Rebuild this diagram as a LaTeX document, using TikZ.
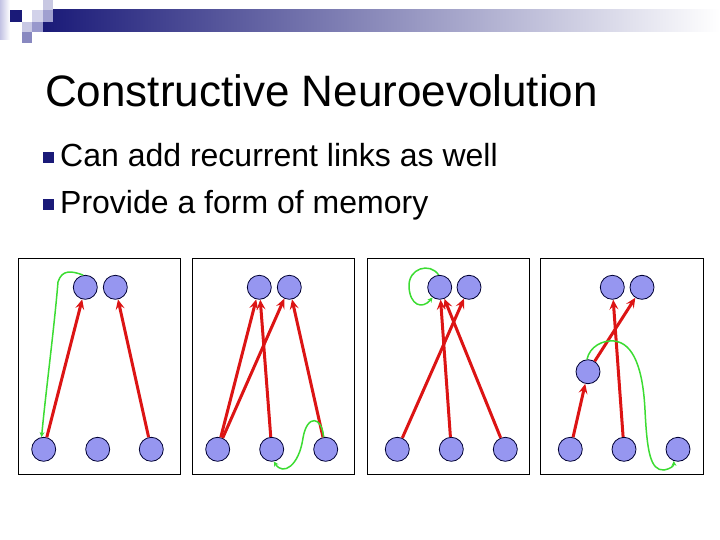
\documentclass[tikz,border=0pt]{standalone}
\usepackage{fontspec}
\setmainfont{Liberation Sans}
\usetikzlibrary{arrows.meta}
\definecolor{navy}{RGB}{26,26,120}
\definecolor{nodefill}{RGB}{150,150,240}
\definecolor{redl}{RGB}{220,20,20}
\definecolor{greenl}{RGB}{60,220,50}
\definecolor{sqa}{RGB}{200,200,226}
\definecolor{sqb}{RGB}{160,160,208}
\definecolor{sqc}{RGB}{210,210,234}
\definecolor{sqd}{RGB}{200,200,228}
\definecolor{sqe}{RGB}{152,152,204}
\definecolor{sqf}{RGB}{136,136,192}
\definecolor{strip}{RGB}{195,195,228}
\begin{document}
\begin{tikzpicture}[x=1pt,y=-1pt,
  neuron/.style={circle,draw=black!80!blue,fill=nodefill,line width=0.8pt,minimum size=24pt,inner sep=0pt},
  panel/.style={draw=black,line width=1pt},
  redarrow/.style={draw=redl,line width=3pt,-{Stealth[length=10pt,width=9pt,inset=4pt]}},
  greenarrow/.style={draw=greenl,line width=1.5pt,-{Stealth[length=5pt,width=5pt]}},
  bulletsq/.style={fill=navy}]
\useasboundingbox (0,0) rectangle (720,540);
% header decoration
\shade[left color=strip,right color=white] (0,0) rectangle (10,40);
\shade[left color=navy,right color=white] (43,10) rectangle (720,32);
\fill[sqa] (43,0) rectangle (53,10);
\fill[sqb] (43,10) rectangle (53,22);
\fill[navy] (10,10) rectangle (22,22);
\fill[sqc] (32,10) rectangle (43,22);
\fill[sqd] (22,22) rectangle (32,32);
\fill[sqe] (32,22) rectangle (43,32);
\fill[sqf] (22,32) rectangle (32,43);
% title and bullets
\node[anchor=base west,inner sep=0pt,font=\fontsize{44}{44}\selectfont] (title) at (45,107) {Constructive Neuroevolution};
\fill[bulletsq] (43,152) rectangle (54,163);
\node[anchor=base west,inner sep=0pt,font=\fontsize{32}{32}\selectfont] (b1) at (60,167) {Can add recurrent links as well};
\fill[bulletsq] (43,199) rectangle (54,210);
\node[anchor=base west,inner sep=0pt,font=\fontsize{32}{32}\selectfont] (b2) at (60,214) {Provide a form of memory};
% panels
\draw[panel] (18,258) rectangle (180,474);
\draw[panel] (192,258) rectangle (354,474);
\draw[panel] (367,258) rectangle (529,474);
\draw[panel] (540,258) rectangle (703,474);
% panel 1
\node[neuron] (p1t1) at (85.3,287.3) {};
\node[neuron] (p1t2) at (115.3,287.3) {};
\node[neuron] (p1b1) at (43.7,449.3) {};
\node[neuron] (p1b2) at (97.7,449.3) {};
\node[neuron] (p1b3) at (151.3,449.3) {};
\draw[redarrow] (p1b1) -- (p1t1);
\draw[redarrow] (p1b3) -- (p1t2);
\draw[greenarrow] (p1t1.100) .. controls (72,271) and (62,269) .. (58,282) .. controls (54,330) and (46,390) .. (p1b1.100);
% panel 2
\node[neuron] (p2t1) at (259.3,287.3) {};
\node[neuron] (p2t2) at (289.3,287.3) {};
\node[neuron] (p2b1) at (217.7,449.3) {};
\node[neuron] (p2b2) at (271.7,449.3) {};
\node[neuron] (p2b3) at (325.7,449.3) {};
\draw[redarrow] (p2b1) -- (p2t1);
\draw[redarrow] (p2b1) -- (p2t2);
\draw[redarrow] (p2b2) -- (p2t1);
\draw[redarrow] (p2b3) -- (p2t2);
\draw[greenarrow] (p2b3.100) .. controls (322,416) and (307,414) .. (303,438) .. controls (299,466) and (283,476) .. (p2b2.-80);
% panel 3
\node[neuron] (p3t1) at (439.7,287.3) {};
\node[neuron] (p3t2) at (469,287.3) {};
\node[neuron] (p3b1) at (397.3,449.3) {};
\node[neuron] (p3b2) at (451.3,449.3) {};
\node[neuron] (p3b3) at (505.3,449.3) {};
\draw[redarrow] (p3b1) -- (p3t2);
\draw[redarrow] (p3b2) -- (p3t1);
\draw[redarrow] (p3b3) -- (p3t1);
\draw[greenarrow] (p3t1.95) .. controls (430,262) and (408,268) .. (409,287) .. controls (410,305) and (422,310) .. (p3t1.235);
% panel 4
\node[neuron] (p4t1) at (612.3,287.3) {};
\node[neuron] (p4t2) at (642,287.3) {};
\node[neuron] (p4h) at (588,371.7) {};
\node[neuron] (p4b1) at (570.3,449.3) {};
\node[neuron] (p4b2) at (624,449.3) {};
\node[neuron] (p4b3) at (678,449.3) {};
\draw[redarrow] (p4b1) -- (p4h);
\draw[redarrow] (p4h) -- (p4t2);
\draw[redarrow] (p4b2) -- (p4t1);
\draw[greenarrow] (p4h.95) .. controls (590,346) and (603,340) .. (614,341) .. controls (634,343) and (643,370) .. (645,410) .. controls (647,450) and (650,471) .. (664,470) .. controls (670,469) and (674,466) .. (p4b3.250);
\end{tikzpicture}
\end{document}
